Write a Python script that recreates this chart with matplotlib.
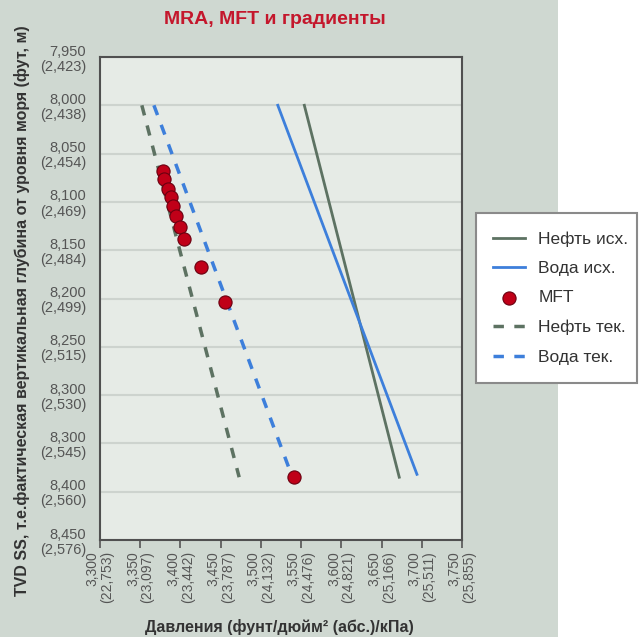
import matplotlib
matplotlib.use('Agg')
import matplotlib.pyplot as plt
from matplotlib.patches import Rectangle

plt.rcParams['font.family'] = ['Liberation Sans', 'DejaVu Sans']

# Gradient lines (pressure psi at top/bottom depth ft)
oil_init_p = [3554, 3672]
oil_init_d = [8000, 8385]
water_init_p = [3521, 3694]
water_init_d = [8000, 8382]
oil_cur_p = [3352, 3473]
oil_cur_d = [8000, 8385]
water_cur_p = [3367, 3536]
water_cur_d = [8000, 8378]

# MFT measurements
mft_p = [3378, 3380, 3385, 3388, 3391, 3395, 3400, 3405, 3426, 3455, 3541]
mft_d = [8068, 8076, 8087, 8095, 8104, 8115, 8126, 8138, 8167, 8204, 8385]

y_ticks = [7950, 8000, 8050, 8100, 8150, 8200, 8250, 8300, 8350, 8400, 8450]
y_labels = ['7,950\n(2,423)', '8,000\n(2,438)', '8,050\n(2,454)', '8,100\n(2,469)',
            '8,150\n(2,484)', '8,200\n(2,499)', '8,250\n(2,515)', '8,300\n(2,530)',
            '8,300\n(2,545)', '8,400\n(2,560)', '8,450\n(2,576)']
x_ticks = [3300, 3350, 3400, 3450, 3500, 3550, 3600, 3650, 3700, 3750]
x_labels = ['3,300\n(22,753)', '3,350\n(23,097)', '3,400\n(23,442)', '3,450\n(23,787)',
            '3,500\n(24,132)', '3,550\n(24,476)', '3,600\n(24,821)', '3,650\n(25,166)',
            '3,700\n(25,511)', '3,750\n(25,855)']

fig = plt.figure(figsize=(6.42, 6.37), dpi=100)
fig.patch.set_facecolor('white')
fig.add_artist(Rectangle((0, 0), 558 / 642, 1, transform=fig.transFigure,
                         facecolor='#cfd8d1', edgecolor='none', zorder=0))

ax = fig.add_axes([100 / 642, 97 / 637, 362 / 642, 483 / 637])
ax.set_facecolor('#e6ebe6')

green = '#5d7262'
blue = '#3d7fdb'
ax.plot(oil_init_p, oil_init_d, color=green, lw=2, label='Нефть исх.')
ax.plot(water_init_p, water_init_d, color=blue, lw=2, label='Вода исх.')
ax.scatter(mft_p, mft_d, s=90, color='#c00018', edgecolor='#6a0010', lw=0.8,
           zorder=5, label='MFT')
ax.plot(oil_cur_p, oil_cur_d, color=green, lw=2.5, ls=(0, (3, 3)), label='Нефть тек.')
ax.plot(water_cur_p, water_cur_d, color=blue, lw=2.5, ls=(0, (3, 3)), label='Вода тек.')

ax.set_xlim(3300, 3750)
ax.set_ylim(8450, 7950)
ax.set_yticks(y_ticks)
ax.set_yticklabels(y_labels, fontsize=10.5, color='#555555', ha='right',
                   linespacing=1.1)
ax.set_xticks(x_ticks)
ax.set_xticklabels(x_labels, fontsize=10, color='#555555', rotation=90,
                   ha='center', va='top', multialignment='right', linespacing=1.05)
ax.tick_params(axis='y', length=0, pad=10)
ax.tick_params(axis='x', length=6, width=1.2, color='#555555', direction='out', pad=2)
ax.grid(axis='y', color='#cdd3ce', lw=1.5)
ax.set_axisbelow(True)
for s in ax.spines.values():
    s.set_color('#505050')
    s.set_linewidth(1.5)

fig.text(275 / 642, 1 - 20 / 637, 'MRA, MFT и градиенты', color='#c4172c',
         fontsize=14, fontweight='bold', ha='center', va='center')
fig.text(22 / 642, 1 - 311 / 637,
         'TVD SS, т.е.фактическая вертикальная глубина от уровня моря (фут, м)',
         rotation=90, fontsize=11.5, fontweight='bold', color='#333333',
         ha='center', va='center')
fig.text(279 / 642, 1 - 627 / 637, 'Давления (фунт/дюйм² (абс.)/кПа)',
         fontsize=11.5, fontweight='bold', color='#333333', ha='center', va='center')

# legend box drawn separately so its padding matches the original
fig.add_artist(Rectangle((476 / 642, 1 - 383 / 637), 161 / 642, 170 / 637,
                         transform=fig.transFigure, facecolor='white',
                         edgecolor='#8a8a8a', lw=1.5, zorder=1))
leg = fig.legend(loc='upper left', bbox_to_anchor=(488 / 642, 1 - 226 / 637),
                 fontsize=12.5, frameon=False, labelspacing=0.82,
                 handlelength=1.85, handletextpad=0.75, borderpad=0.3,
                 borderaxespad=0, labelcolor='#333333')
leg.set_zorder(2)

fig.savefig('out.png', dpi=100)
